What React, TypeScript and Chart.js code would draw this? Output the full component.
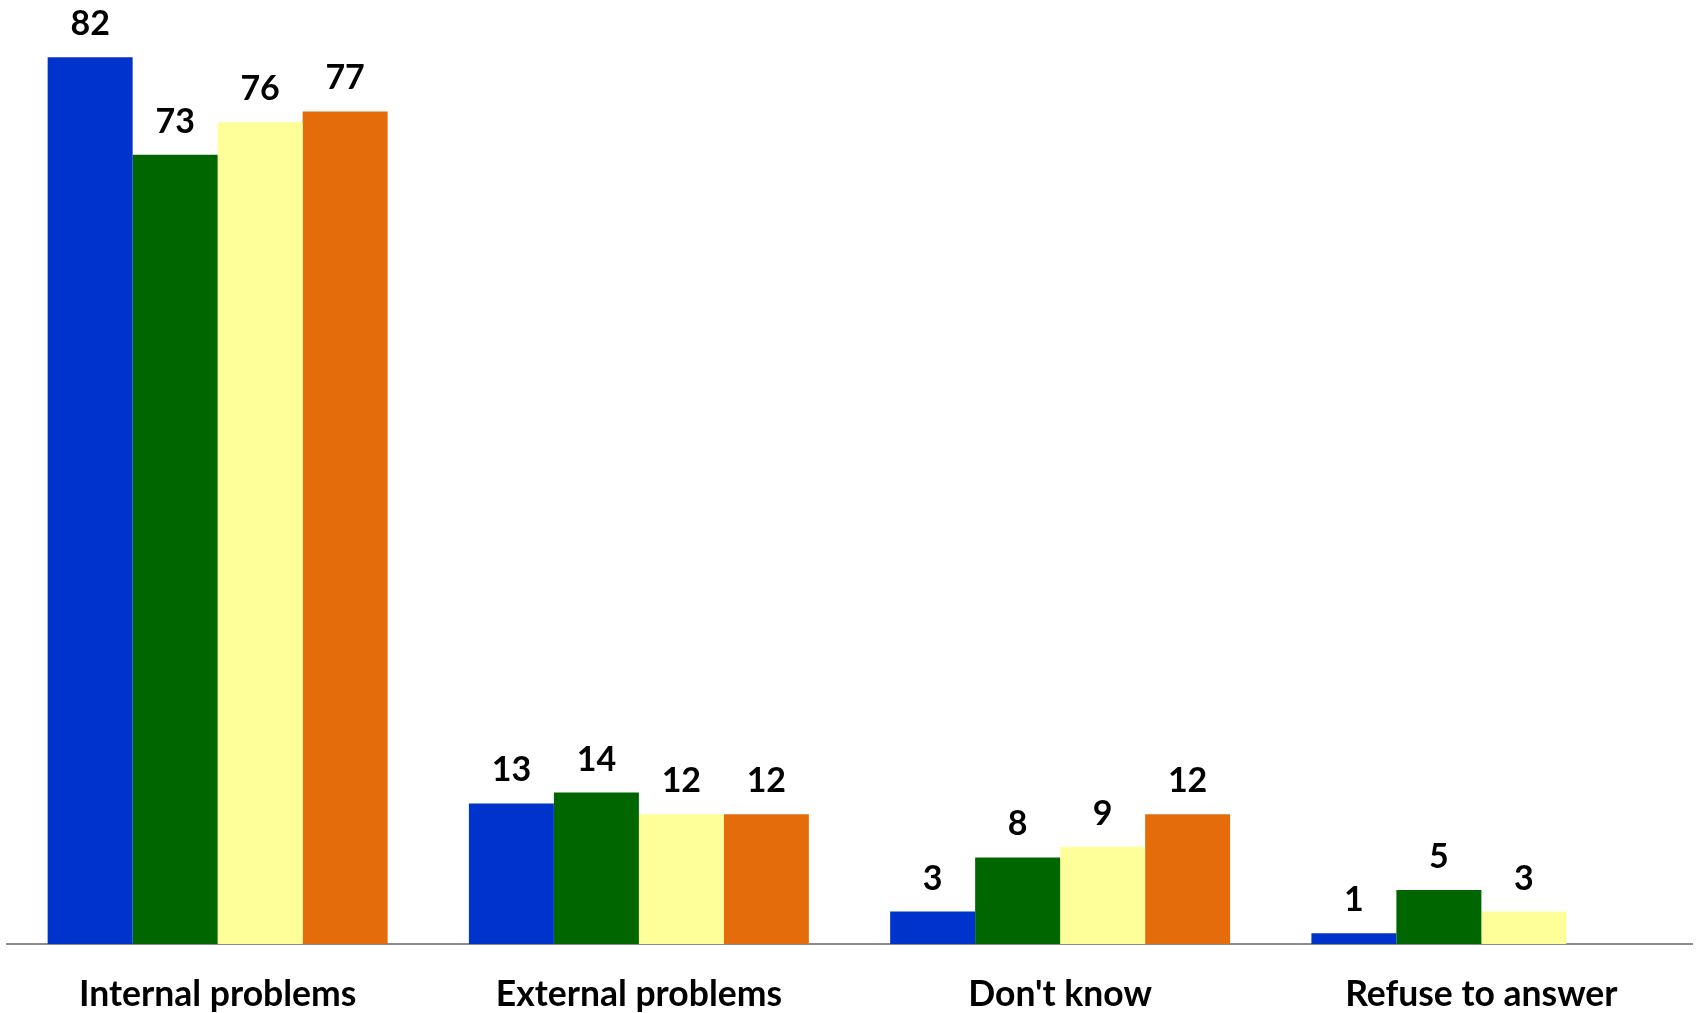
import React, { useEffect, useRef } from "react";
import { Chart, registerables } from "chart.js";

Chart.register(...registerables);

const categories = ["Internal problems", "External problems", "Don't know", "Refuse to answer"];
const series1 = [82, 13, 3, 1];
const series2 = [73, 14, 8, 5];
const series3 = [76, 12, 9, 3];
const series4 = [77, 12, 12, null];
const seriesNames = ["Series 1", "Series 2", "Series 3", "Series 4"];
const seriesColors = ["#0033CC", "#006600", "#FFFF99", "#E46C0A"];

const FONT = "Lato, 'Open Sans', sans-serif";

const valueLabels = {
  id: "valueLabels",
  afterDatasetsDraw(chart: any) {
    const ctx = chart.ctx;
    ctx.save();
    ctx.font = `bold 34px ${FONT}`;
    ctx.fillStyle = "#000000";
    ctx.textAlign = "center";
    ctx.textBaseline = "alphabetic";
    chart.data.datasets.forEach((ds: any, i: number) => {
      const meta = chart.getDatasetMeta(i);
      meta.data.forEach((bar: any, j: number) => {
        const v = ds.data[j];
        if (v == null) return;
        ctx.fillText(String(v), bar.x, bar.y - 22);
      });
    });
    ctx.restore();
  },
};

export default function App() {
  const ref = useRef<HTMLCanvasElement>(null);
  useEffect(() => {
    document.body.style.margin = "0";
    const all = [series1, series2, series3, series4];
    const chart = new Chart(ref.current!, {
      type: "bar",
      data: {
        labels: categories,
        datasets: all.map((d, i) => ({
          label: seriesNames[i],
          data: d,
          backgroundColor: seriesColors[i],
          borderWidth: 0,
          categoryPercentage: 0.807,
          barPercentage: 1.0,
        })),
      },
      options: {
        animation: false,
        responsive: false,
        layout: { padding: { left: 7, right: 4, top: 0, bottom: 0 } },
        plugins: {
          legend: { display: false },
          tooltip: { enabled: false },
        },
        scales: {
          x: {
            grid: { display: false, drawTicks: false },
            border: { display: true, color: "#8c8c8c", width: 2 },
            ticks: {
              color: "#000000",
              padding: 33,
              maxRotation: 0,
              autoSkip: false,
              font: { family: FONT, size: 35.5, weight: "bold", lineHeight: 1.0 },
            },
            afterFit: (scale: any) => {
              scale.height = 69;
            },
          },
          y: {
            display: false,
            min: 0,
            max: 87.3,
          },
        },
      },
      plugins: [valueLabels],
    });
    return () => chart.destroy();
  }, []);
  return (
    <div style={{ width: 1696, height: 1013, background: "#ffffff" }}>
      <canvas ref={ref} width={1696} height={1013} style={{ display: "block" }} />
    </div>
  );
}
